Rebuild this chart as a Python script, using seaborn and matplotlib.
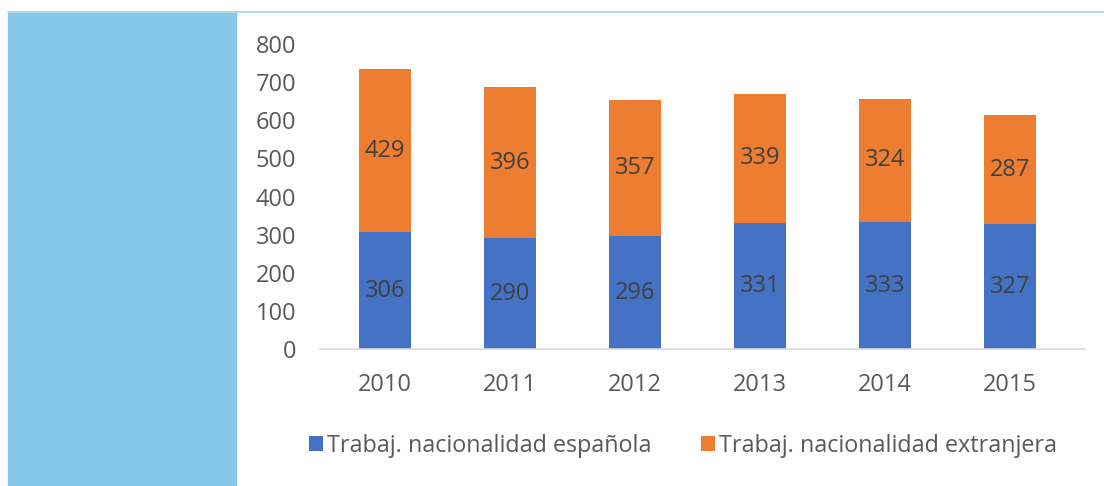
import matplotlib
matplotlib.use("Agg")
import matplotlib.pyplot as plt
import seaborn as sns
import pandas as pd
from matplotlib.patches import Rectangle, Patch
from matplotlib.lines import Line2D

years = ["2010", "2011", "2012", "2013", "2014", "2015"]
espanola = [306, 290, 296, 331, 333, 327]
extranjera = [429, 396, 357, 339, 324, 287]
series_names = ["Trabaj. nacionalidad española", "Trabaj. nacionalidad extranjera"]

BLUE = "#4472C4"
ORANGE = "#ED7D31"
TXT = "#595959"
LBL = "#404040"

sns.set_theme(style="white")
plt.rcParams["font.family"] = ["Open Sans", "DejaVu Sans"]

fig = plt.figure(figsize=(11.04, 4.86), dpi=100)
W, H = 1104, 486
# left light-blue panel and top rule
fig.patches.append(Rectangle((8 / W, 0), (236 - 8) / W, (H - 12) / H,
                             transform=fig.transFigure, color="#87C8EA", zorder=0))
fig.add_artist(Line2D([8 / W, 1], [(H - 12) / H] * 2, transform=fig.transFigure,
                      color="#ADDCEB", lw=1.5))

ax = fig.add_axes([320 / W, 1 - 349 / H, (1085 - 320) / W, (349 - 44) / H])
ax.set_facecolor("none")

df = pd.DataFrame({"year": years, "esp": espanola, "ext": extranjera})
df["total"] = df["esp"] + df["ext"]

sns.barplot(data=df, x="year", y="total", color=ORANGE, saturation=1, width=0.42,
            ax=ax, edgecolor="none")
sns.barplot(data=df, x="year", y="esp", color=BLUE, saturation=1, width=0.42,
            ax=ax, edgecolor="none")

# data labels
for i, (e, x) in enumerate(zip(espanola, extranjera)):
    ax.text(i, e / 2, str(e), ha="center", va="center", fontsize=17, color=LBL)
    ax.text(i, e + x / 2, str(x), ha="center", va="center", fontsize=17, color=LBL)

ax.set_ylim(0, 800)
ax.set_xlim(-0.52, 5.6)
ax.set_yticks(range(0, 801, 100))
ax.set_xlabel("")
ax.set_ylabel("")
for s in ["top", "right", "left"]:
    ax.spines[s].set_visible(False)
ax.spines["bottom"].set_color("#D9D9D9")
ax.spines["bottom"].set_linewidth(1.2)
ax.tick_params(axis="y", length=0, pad=17, labelsize=17, labelcolor=TXT)
ax.tick_params(axis="x", length=0, pad=17, labelsize=17, labelcolor=TXT)
ax.grid(False)

handles = [Patch(facecolor=BLUE, edgecolor="none"), Patch(facecolor=ORANGE, edgecolor="none")]
fig.legend(handles, series_names, loc="center", bbox_to_anchor=(683 / W, 1 - 446 / H),
           ncol=2, frameon=False, fontsize=16.8, labelcolor=TXT,
           handlelength=0.6, handleheight=0.6, handletextpad=0.2, columnspacing=2.1)

fig.savefig("out.png", dpi=100, facecolor="white")
